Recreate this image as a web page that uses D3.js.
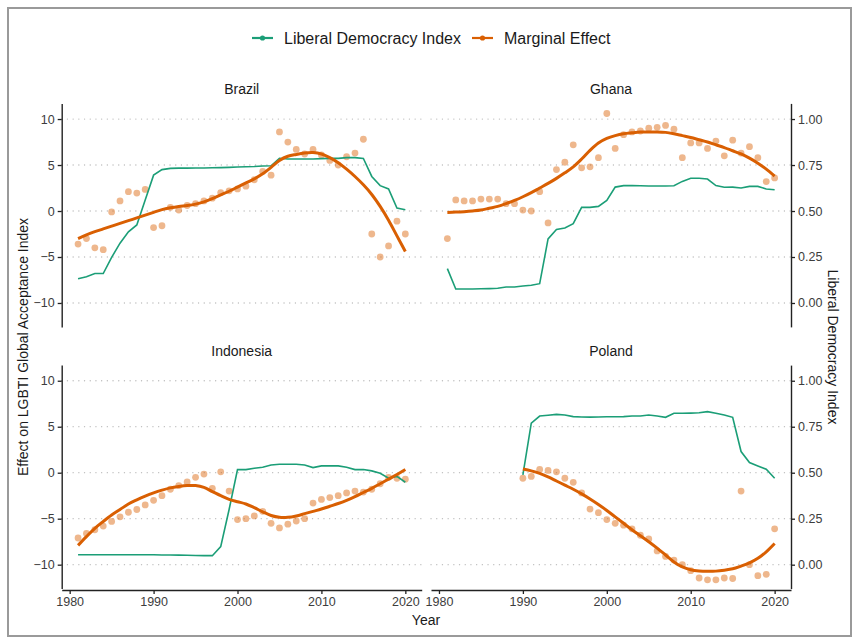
<!DOCTYPE html>
<html>
<head>
<meta charset="utf-8">
<script src="https://cdn.jsdelivr.net/npm/d3@7"></script>
<style>
  html, body { margin: 0; padding: 0; background: #fff; }
  svg { display: block; font-family: "Liberation Sans", Arial, sans-serif; }
</style>
</head>
<body>
<svg id="chart" width="859" height="644"></svg>
<script>
// ---------- DATA ----------
const yearsFull = [1981,1982,1983,1984,1985,1986,1987,1988,1989,1990,1991,1992,1993,1994,1995,1996,1997,1998,1999,2000,2001,2002,2003,2004,2005,2006,2007,2008,2009,2010,2011,2012,2013,2014,2015,2016,2017,2018,2019,2020];
const yearsPoland = [1990,1991,1992,1993,1994,1995,1996,1997,1998,1999,2000,2001,2002,2003,2004,2005,2006,2007,2008,2009,2010,2011,2012,2013,2014,2015,2016,2017,2018,2019,2020];

const countries = ["Brazil", "Ghana", "Indonesia", "Poland"];

const brazilEffect = [-3.6,-3.0,-4.0,-4.2,-0.1,1.1,2.1,1.95,2.35,-1.8,-1.6,0.4,0.1,0.6,0.8,1.1,1.4,2.0,2.2,2.4,2.7,3.4,4.3,3.9,8.6,7.5,6.7,6.2,6.7,6.1,5.5,5.0,5.9,6.3,7.8,-2.5,-5.0,-3.8,-1.1,-2.5];
const brazilSmooth = [-3.0,-2.6,-2.25,-1.95,-1.65,-1.35,-1.05,-0.75,-0.45,-0.15,0.15,0.35,0.5,0.6,0.75,1.0,1.35,1.75,2.15,2.6,3.05,3.5,4.05,4.75,5.5,5.95,6.15,6.3,6.35,6.2,5.8,5.25,4.55,3.75,2.85,1.8,0.5,-1.0,-2.7,-4.4];
const brazilLDI = [0.132,0.143,0.16,0.16,0.248,0.325,0.387,0.424,0.56,0.695,0.725,0.732,0.733,0.733,0.734,0.734,0.735,0.736,0.737,0.739,0.741,0.742,0.745,0.746,0.787,0.783,0.783,0.783,0.783,0.785,0.786,0.786,0.79,0.79,0.786,0.688,0.638,0.62,0.516,0.507];

const ghanaEffect = [-3.0,1.2,1.1,1.1,1.3,1.3,1.3,0.8,0.8,0.1,0.0,2.1,-1.3,4.5,5.3,7.2,4.7,4.8,5.8,10.6,6.8,8.3,8.6,8.7,9.0,9.1,9.3,8.9,5.8,7.4,7.4,6.8,7.6,6.0,7.7,6.3,7.0,5.8,3.2,3.6];
const ghanaSmooth = [-0.15,-0.12,-0.07,0.0,0.1,0.3,0.5,0.8,1.15,1.55,2.0,2.5,3.0,3.55,4.15,4.8,5.65,6.6,7.4,7.9,8.2,8.4,8.5,8.58,8.6,8.6,8.55,8.4,8.2,8.0,7.75,7.5,7.2,6.9,6.55,6.2,5.75,5.2,4.55,3.8];
const ghanaLDI = [0.187,0.076,0.076,0.076,0.077,0.078,0.08,0.087,0.087,0.092,0.096,0.105,0.348,0.399,0.408,0.431,0.52,0.52,0.525,0.558,0.63,0.638,0.638,0.637,0.636,0.636,0.636,0.637,0.661,0.678,0.678,0.674,0.638,0.629,0.63,0.625,0.634,0.634,0.62,0.616];

const indonesiaEffect = [-7.1,-6.6,-6.2,-5.8,-5.3,-4.8,-4.3,-4.0,-3.5,-3.0,-2.5,-1.8,-1.4,-1.0,-0.5,-0.15,-1.7,0.1,-2.0,-5.1,-5.0,-4.7,-4.2,-5.5,-6.0,-5.6,-5.25,-5.0,-3.3,-2.9,-2.7,-2.5,-2.2,-2.0,-2.1,-1.8,-1.2,-0.5,-0.6,-0.7];
const indonesiaSmooth = [-7.9,-6.95,-6.05,-5.3,-4.6,-4.0,-3.4,-2.95,-2.55,-2.2,-1.9,-1.65,-1.5,-1.4,-1.4,-1.6,-2.05,-2.5,-2.9,-3.15,-3.4,-3.8,-4.25,-4.65,-4.85,-4.85,-4.7,-4.45,-4.2,-3.95,-3.65,-3.35,-3.0,-2.6,-2.15,-1.7,-1.2,-0.7,-0.2,0.35];
const indonesiaLDI = [0.054,0.054,0.054,0.054,0.054,0.054,0.054,0.054,0.054,0.054,0.053,0.053,0.052,0.051,0.05,0.049,0.049,0.098,0.3,0.517,0.517,0.524,0.53,0.542,0.546,0.546,0.546,0.542,0.528,0.537,0.537,0.537,0.53,0.517,0.517,0.51,0.497,0.47,0.48,0.448];

const polandEffect = [-0.6,-0.4,0.35,0.25,0.1,-0.6,-1.05,-2.2,-3.95,-4.35,-5.1,-5.5,-5.7,-6.1,-6.8,-7.2,-8.5,-9.1,-9.5,-10.0,-10.65,-11.45,-11.65,-11.65,-11.45,-11.5,-2.0,-10.0,-11.2,-11.05,-6.1];
const polandSmooth = [0.4,0.2,-0.07,-0.45,-0.9,-1.35,-1.8,-2.3,-2.85,-3.45,-4.1,-4.8,-5.5,-6.2,-6.85,-7.5,-8.2,-8.95,-9.7,-10.25,-10.55,-10.68,-10.72,-10.7,-10.6,-10.45,-10.15,-9.8,-9.3,-8.6,-7.7];
const polandLDI = [0.488,0.769,0.808,0.812,0.817,0.814,0.805,0.803,0.802,0.803,0.804,0.804,0.805,0.808,0.808,0.814,0.808,0.801,0.823,0.823,0.824,0.826,0.832,0.823,0.814,0.801,0.615,0.555,0.537,0.519,0.47];

const xTicks = [1980, 1990, 2000, 2010, 2020];
const yTicks = [-10, -5, 0, 5, 10];
const ldiTicks = [0, 0.25, 0.5, 0.75, 1];
const legendLabels = ["Liberal Democracy Index", "Marginal Effect"];

const seriesByCountry = {
  Brazil:    { years: yearsFull,   effect: brazilEffect,    smooth: brazilSmooth,    ldi: brazilLDI },
  Ghana:     { years: yearsFull,   effect: ghanaEffect,     smooth: ghanaSmooth,     ldi: ghanaLDI },
  Indonesia: { years: yearsFull,   effect: indonesiaEffect, smooth: indonesiaSmooth, ldi: indonesiaLDI },
  Poland:    { years: yearsPoland, effect: polandEffect,    smooth: polandSmooth,    ldi: polandLDI }
};

// ---------- STYLE / LAYOUT ----------
const GREEN = "#1b9e77", ORANGE = "#d95f02";
const svg = d3.select("#chart");

svg.append("rect").attr("x", 8).attr("y", 8).attr("width", 843).attr("height", 628)
  .attr("fill", "#fff").attr("stroke", "#9a9a9a").attr("stroke-width", 2);

const colX = [[61.7, 421.7], [431, 791]];
const rowY = [[103.4, 326.9], [365.1, 588.6]];
const yDomain = [-12.6, 11.7];
const xDomain = [1979.05, 2021.95];

countries.forEach((c, i) => {
  const col = i % 2, row = Math.floor(i / 2);
  const [x0, x1] = colX[col], [y0, y1] = rowY[row];
  const x = d3.scaleLinear().domain(xDomain).range([x0, x1]);
  const y = d3.scaleLinear().domain(yDomain).range([y1, y0]);
  const yL = d3.scaleLinear().domain(yDomain.map(v => (v + 10) / 20)).range([y1, y0]);
  const s = seriesByCountry[c];
  const g = svg.append("g");

  // gridlines
  g.selectAll(".grid").data(yTicks).join("line")
    .attr("x1", x0).attr("x2", x1)
    .attr("y1", d => y(d)).attr("y2", d => y(d))
    .attr("stroke", "#bdbdbd").attr("stroke-width", 1.3)
    .attr("stroke-dasharray", "0.1,5.6").attr("stroke-linecap", "round");

  // strip title
  g.append("text").attr("x", (x0 + x1) / 2).attr("y", y0 - 9)
    .attr("text-anchor", "middle").attr("font-size", 14).attr("fill", "#1a1a1a").text(c);

  // points
  g.selectAll(".pt").data(s.years.map((yr, k) => [yr, s.effect[k]])).join("circle")
    .attr("cx", d => x(d[0])).attr("cy", d => y(d[1])).attr("r", 3.4)
    .attr("fill", ORANGE).attr("fill-opacity", 0.45);

  // LDI line
  g.append("path")
    .datum(s.years.map((yr, k) => [yr, s.ldi[k]]))
    .attr("fill", "none").attr("stroke", GREEN).attr("stroke-width", 1.6)
    .attr("d", d3.line().x(d => x(d[0])).y(d => yL(d[1])));

  // smooth line
  g.append("path")
    .datum(s.years.map((yr, k) => [yr, s.smooth[k]]))
    .attr("fill", "none").attr("stroke", ORANGE).attr("stroke-width", 3)
    .attr("stroke-linecap", "butt")
    .attr("d", d3.line().curve(d3.curveCatmullRom).x(d => x(d[0])).y(d => y(d[1])));

  // axes
  const styleAxis = sel => {
    sel.select(".domain").attr("stroke", "#222").attr("stroke-width", 1.4);
    sel.selectAll(".tick line").attr("stroke", "#222").attr("stroke-width", 1.3);
    sel.selectAll(".tick text").attr("fill", "#3d3d3d").attr("font-size", 12.5)
      .attr("font-family", '"Liberation Sans", Arial, sans-serif');
  };
  if (col === 0) {
    const ax = g.append("g").attr("transform", `translate(${x0},0)`)
      .call(d3.axisLeft(y).tickValues(yTicks).tickSize(4).tickPadding(3).tickSizeOuter(0));
    styleAxis(ax);
  } else {
    const ax = g.append("g").attr("transform", `translate(${x1},0)`)
      .call(d3.axisRight(yL).tickValues(ldiTicks).tickFormat(d3.format(".2f")).tickSize(4).tickPadding(3).tickSizeOuter(0));
    styleAxis(ax);
  }
  if (row === 1) {
    const ax = g.append("g").attr("transform", `translate(0,${y1 + 1.4})`)
      .call(d3.axisBottom(x).tickValues(xTicks).tickFormat(d3.format("d")).tickSize(4).tickPadding(3).tickSizeOuter(0));
    styleAxis(ax);
  }
});

// axis titles
svg.append("text").attr("transform", "translate(27.5,347) rotate(-90)")
  .attr("text-anchor", "middle").attr("font-size", 14).attr("fill", "#1a1a1a")
  .text("Effect on LGBTI Global Acceptance Index");
svg.append("text").attr("transform", "translate(828,347) rotate(90)")
  .attr("text-anchor", "middle").attr("font-size", 14).attr("fill", "#1a1a1a")
  .text("Liberal Democracy Index");
svg.append("text").attr("x", 426).attr("y", 625)
  .attr("text-anchor", "middle").attr("font-size", 14).attr("fill", "#1a1a1a").text("Year");

// legend
const legendColors = [GREEN, ORANGE];
const legendX = [252, 472];
legendLabels.forEach((lab, i) => {
  const lg = svg.append("g").attr("transform", `translate(${legendX[i]},38)`);
  lg.append("line").attr("x1", 0).attr("x2", 21).attr("y1", 0).attr("y2", 0)
    .attr("stroke", legendColors[i]).attr("stroke-width", 2.2);
  lg.append("circle").attr("cx", 10.5).attr("cy", 0).attr("r", 2.6).attr("fill", legendColors[i]);
  lg.append("text").attr("x", 32).attr("y", 5.6).attr("font-size", 16).attr("fill", "#1a1a1a").text(lab);
});
</script>
</body>
</html>
